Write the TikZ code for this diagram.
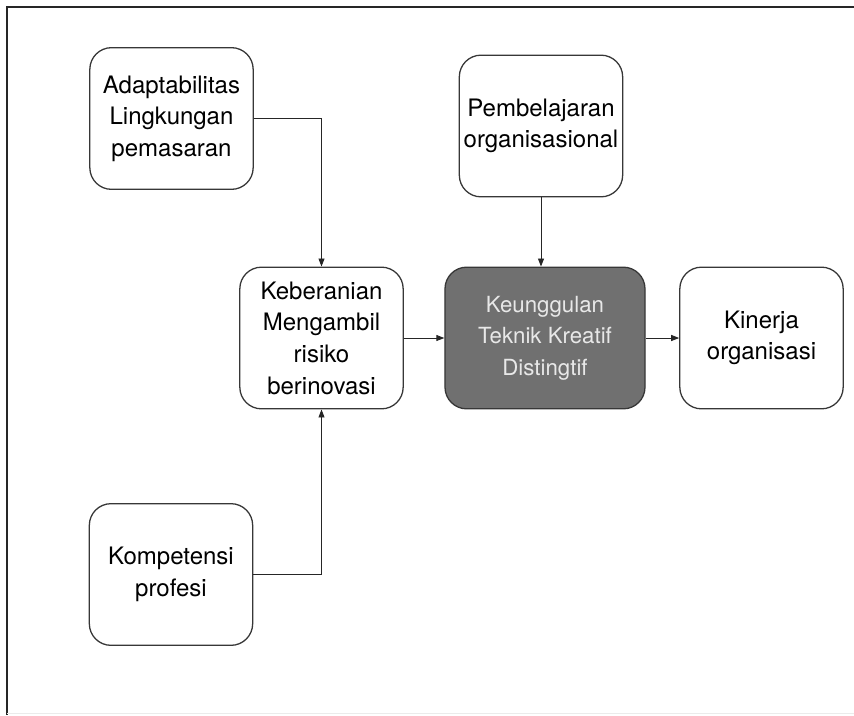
\documentclass[tikz,border=0pt]{standalone}
\usepackage{fontspec}
\setmainfont{TeX Gyre Heros}
\usetikzlibrary{arrows.meta, positioning}
\definecolor{boxgray}{RGB}{112,112,112}
\definecolor{linegray}{RGB}{55,55,55}
\definecolor{paletext}{RGB}{232,232,232}

\begin{document}
\begin{tikzpicture}[x=0.03cm, y=-0.03cm,
    konsep/.style={draw=linegray, line width=1.1pt, rounded corners=0.65cm,
      minimum width=4.9cm, minimum height=4.25cm, inner sep=0pt,
      align=center, font=\fontsize{20.5}{27}\selectfont},
    inti/.style={konsep, fill=boxgray, text=paletext, minimum width=6cm,
      font=\fontsize{19}{27}\selectfont},
    panah/.style={-{Triangle[length=0.24cm,width=0.18cm]}, line width=0.8pt, black!85}]
  \useasboundingbox (0,0) rectangle (854,715);
  % frame of the cropped page
  \draw[line width=1.5pt, black!85] (7,715) -- (7,7) -- (854,7);
  \draw[black!8] (7,713) -- (854,713);
  % variables
  \node[konsep] (adapt) at (171.5,118.5) {Adaptabilitas\\Lingkungan\\pemasaran};
  \node[konsep] (belajar) at (541,126) {Pembelajaran\\organisasional};
  \node[konsep] (berani) at (321.5,338) {Keberanian\\Mengambil\\risiko\\berinovasi};
  \node[inti] (unggul) at (545,338) {Keunggulan\\Teknik Kreatif\\Distingtif};
  \node[konsep] (kinerja) at (761.5,338) {Kinerja\\organisasi};
  \node[konsep] (kompeten) at (171,574.5) {Kompetensi\\profesi};
  % connectors
  \draw[panah] (adapt.east) -| (berani.north);
  \draw[panah] (kompeten.east) -| (berani.south);
  \draw[panah] (belajar.south) -- (belajar.south |- unggul.north);
  \draw[panah] (berani) -- (unggul);
  \draw[panah] (unggul) -- (kinerja);
\end{tikzpicture}
\end{document}
